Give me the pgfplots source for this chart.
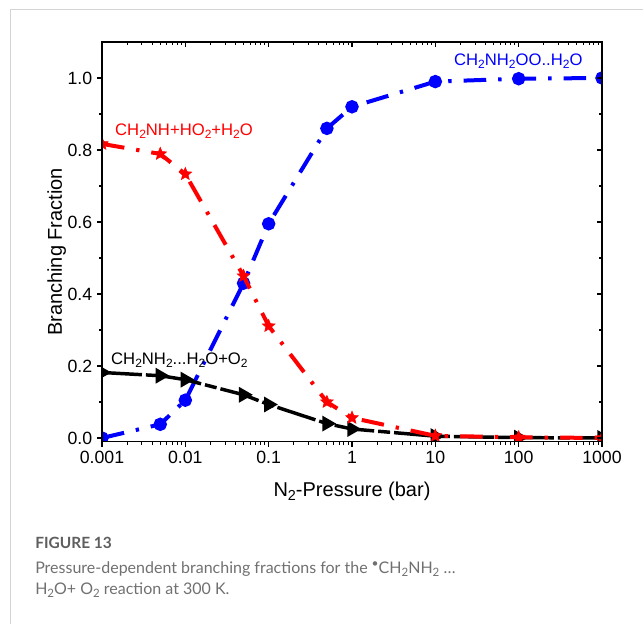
\documentclass[border=0pt]{standalone}
\usepackage{fontspec}
\setmainfont{Liberation Sans}
\newfontfamily\lato{Lato}
\usepackage{pgfplots}
\pgfplotsset{compat=1.18}
\definecolor{capgray}{HTML}{707070}
\definecolor{figgray}{HTML}{5E5E5E}
\newcommand{\sub}[1]{\raisebox{-0.32ex}{\scalebox{0.72}{#1}}}

% filled five-pointed star
\pgfdeclareplotmark{fstar}{%
  \pgfpathmoveto{\pgfpointpolar{90}{\pgfplotmarksize}}%
  \pgfpathlineto{\pgfpointpolar{126}{0.45\pgfplotmarksize}}%
  \pgfpathlineto{\pgfpointpolar{162}{\pgfplotmarksize}}%
  \pgfpathlineto{\pgfpointpolar{198}{0.45\pgfplotmarksize}}%
  \pgfpathlineto{\pgfpointpolar{234}{\pgfplotmarksize}}%
  \pgfpathlineto{\pgfpointpolar{270}{0.45\pgfplotmarksize}}%
  \pgfpathlineto{\pgfpointpolar{306}{\pgfplotmarksize}}%
  \pgfpathlineto{\pgfpointpolar{342}{0.45\pgfplotmarksize}}%
  \pgfpathlineto{\pgfpointpolar{18}{\pgfplotmarksize}}%
  \pgfpathlineto{\pgfpointpolar{54}{0.45\pgfplotmarksize}}%
  \pgfpathclose\pgfusepathqfillstroke}

\begin{document}
\begin{tikzpicture}
\useasboundingbox (0,0) rectangle (482.25pt,468pt);
\draw[color=black!17, line width=0.8pt] (7.9pt,0) -- (7.9pt,460.9pt) -- (482.25pt,460.9pt);

\begin{axis}[
  scale only axis, width=375pt, height=299.7pt,
  at={(76.5pt,136.8pt)}, anchor=south west,
  xmode=log, xmin=0.001, xmax=1000, ymin=-0.01, ymax=1.1,
  axis line style={line width=1.1pt},
  major tick length=3.75pt, minor tick length=2.4pt,
  tick style={black, line width=0.8pt},
  xtick={0.001,0.01,0.1,1,10,100,1000},
  minor xtick={0.002,0.003,0.004,0.005,0.006,0.007,0.008,0.009,
    0.02,0.03,0.04,0.05,0.06,0.07,0.08,0.09,
    0.2,0.3,0.4,0.5,0.6,0.7,0.8,0.9,
    2,3,4,5,6,7,8,9,20,30,40,50,60,70,80,90,
    200,300,400,500,600,700,800,900},
  ytick={0,0.2,0.4,0.6,0.8,1.0},
  minor ytick={0.1,0.3,0.5,0.7,0.9},
  xtick pos=bottom, ytick pos=left, tick align=outside,
  xticklabels={0.001,0.01,0.1,1,10,100,1000},
  yticklabels={0.0,0.2,0.4,0.6,0.8,1.0},
  tick label style={font=\fontsize{13.3}{13.3}\selectfont},
  label style={font=\fontsize{15}{15}\selectfont},
  xlabel={N\sub{2}-Pressure (bar)},
  ylabel={Branching Fraction},
  xlabel style={at={(axis description cs:0.5,-0.1386)}, anchor=base},
  ylabel style={at={(axis description cs:-0.08,0.4745)}, anchor=base},
  clip marker paths=true,
]
% CH2NH2OO..H2O
\addplot[blue, line width=3pt, dash pattern=on 17pt off 9pt on 2.5pt off 9pt,
  mark=*, mark size=3.5pt, mark options={solid}] coordinates {
  (0.001,0.0) (0.005,0.038) (0.01,0.105) (0.05,0.43) (0.1,0.595)
  (0.5,0.86) (1,0.92) (10,0.99) (100,0.998) (1000,1.0)
};
% CH2NH2...H2O+O2
\addplot[black, line width=2.6pt, dash pattern=on 30pt off 3pt on 9pt off 3pt,
  mark=triangle*, mark size=4.3pt, mark options={solid, rotate=-90}] coordinates {
  (0.001,0.182) (0.005,0.173) (0.01,0.162) (0.05,0.12) (0.1,0.093)
  (0.5,0.04) (1,0.025) (10,0.005) (100,0.001) (1000,0.0)
};
% CH2NH+HO2+H2O
\addplot[red, line width=3pt, dash pattern=on 17pt off 9pt on 2.5pt off 9pt,
  mark=fstar, mark size=5pt, mark options={solid, line width=0.4pt}] coordinates {
  (0.001,0.817) (0.005,0.789) (0.01,0.733) (0.05,0.45) (0.1,0.311)
  (0.5,0.10) (1,0.056) (10,0.006) (100,0.002) (1000,0.0)
};
\node[anchor=base west, inner sep=0, text=blue, font=\fontsize{12.5}{12.5}\selectfont]
  at (axis cs:16.7,1.034) {CH\sub{2}NH\sub{2}OO..H\sub{2}O};
\node[anchor=base west, inner sep=0, text=red, font=\fontsize{12.5}{12.5}\selectfont]
  at (axis cs:0.00143,0.839) {CH\sub{2}NH+HO\sub{2}+H\sub{2}O};
\node[anchor=base west, inner sep=0, text=black, font=\fontsize{12.5}{12.5}\selectfont]
  at (axis cs:0.00128,0.203) {CH\sub{2}NH\sub{2}...H\sub{2}O+O\sub{2}};
\end{axis}

\begin{axis}[
  scale only axis, width=375pt, height=299.7pt,
  at={(76.5pt,136.8pt)}, anchor=south west,
  xmode=log, xmin=0.001, xmax=1000, ymin=-0.01, ymax=1.1,
  axis line style={line width=1.1pt},
  major tick length=3.75pt, minor tick length=2.4pt,
  tick style={black, line width=0.8pt},
  xtick={0.001,0.01,0.1,1,10,100,1000},
  minor xtick={0.002,0.003,0.004,0.005,0.006,0.007,0.008,0.009,
    0.02,0.03,0.04,0.05,0.06,0.07,0.08,0.09,
    0.2,0.3,0.4,0.5,0.6,0.7,0.8,0.9,
    2,3,4,5,6,7,8,9,20,30,40,50,60,70,80,90,
    200,300,400,500,600,700,800,900},
  ytick={0,0.2,0.4,0.6,0.8,1.0},
  minor ytick={0.1,0.3,0.5,0.7,0.9},
  xtick pos=top, ytick pos=right, tick align=inside,
  xticklabels={}, yticklabels={},
]
\addplot[draw=none] coordinates {(1,0.5)};
\end{axis}

\node[anchor=base west, inner sep=0, text=figgray, font=\lato\bfseries\fontsize{11.6}{11.6}\selectfont]
  at (26.25pt,56.25pt) {FIGURE 13};
\node[anchor=base west, inner sep=0, text=capgray, font=\lato\fontsize{12}{12}\selectfont]
  at (26.25pt,37.5pt) {Pressure-dependent branching fractions for the \raisebox{0.75ex}{\scalebox{0.75}{•}}CH\sub{2}NH\sub{2} …};
\node[anchor=base west, inner sep=0, text=capgray, font=\lato\fontsize{12}{12}\selectfont]
  at (26.25pt,21.75pt) {H\sub{2}O+ O\sub{2} reaction at 300 K.};
\end{tikzpicture}
\end{document}
